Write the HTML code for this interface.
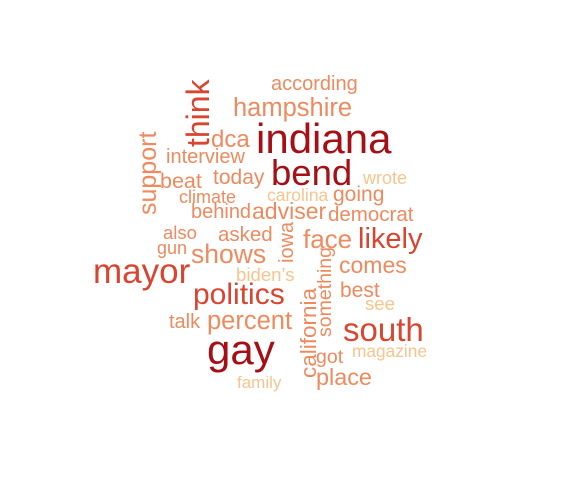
<!DOCTYPE html>
<html><head><meta charset="utf-8"><style>
html,body{margin:0;padding:0;background:#fff;}
svg{display:block;}
text{font-family:"Liberation Sans",Arial,sans-serif;}
</style></head><body>
<svg id="cloud" width="567" height="484" viewBox="0 0 567 484"></svg>
<script>
const words = ["according","hampshire","indiana","bend","think","dca","support","interview","beat","today","wrote","carolina","going","climate","behind","adviser","democrat","also","asked","iowa","face","likely","gun","shows","something","comes","mayor","biden’s","politics","best","california","see","talk","percent","south","gay","got","magazine","place","family"];
const freqSizes = [20,25.5,42,36.5,32,24,25,20,21.5,21,18,17.5,21,18,20,23,20.5,18.5,20.5,20,26,29,18,26.5,19.5,23,35,18.6,30,21,22.5,18.6,20,25.5,33,42,19.5,17.3,23.4,17];
const tiers = [2,2,0,0,1,2,2,2,2,2,3,3,2,2,2,2,2,2,2,2,2,1,2,2,2,2,1,3,1,2,2,3,2,2,1,0,2,3,2,3];
const xs = [271,233,256,271,209,211,156,166,160,213,363,267,333,179,191,252,328,163,218,293,303,358,157,191,331,339,93,236,193,340,316,365,169,207,343,207,316,352,316,237];
const ys = [90,116,153,185,147,147,215,163,188,184,184,201,201,203,218,219,221,239,241,263,248,248,254,263,337,273,283,281,304,297,378,310,328,329,341,364,363,357,385,388];
const vertical = [0,0,0,0,1,0,1,0,0,0,0,0,0,0,0,0,0,0,0,1,0,0,0,0,1,0,0,0,0,0,1,0,0,0,0,0,0,0,0,0];
const palette = ["#a50f15","#d9452f","#ef8a5e","#f8c48c"];
const svg = document.getElementById('cloud');
words.forEach((w,i)=>{
  const t = document.createElementNS('http://www.w3.org/2000/svg','text');
  
  
  t.setAttribute('x', xs[i]);
  t.setAttribute('y', ys[i]);
  t.setAttribute('font-size', freqSizes[i]);
  t.setAttribute('fill', palette[tiers[i]]);
  if (vertical[i]) t.setAttribute('transform', 'rotate(-90 ' + xs[i] + ' ' + ys[i] + ')');
  t.textContent = w;
  svg.appendChild(t);
});
</script>
</body></html>
